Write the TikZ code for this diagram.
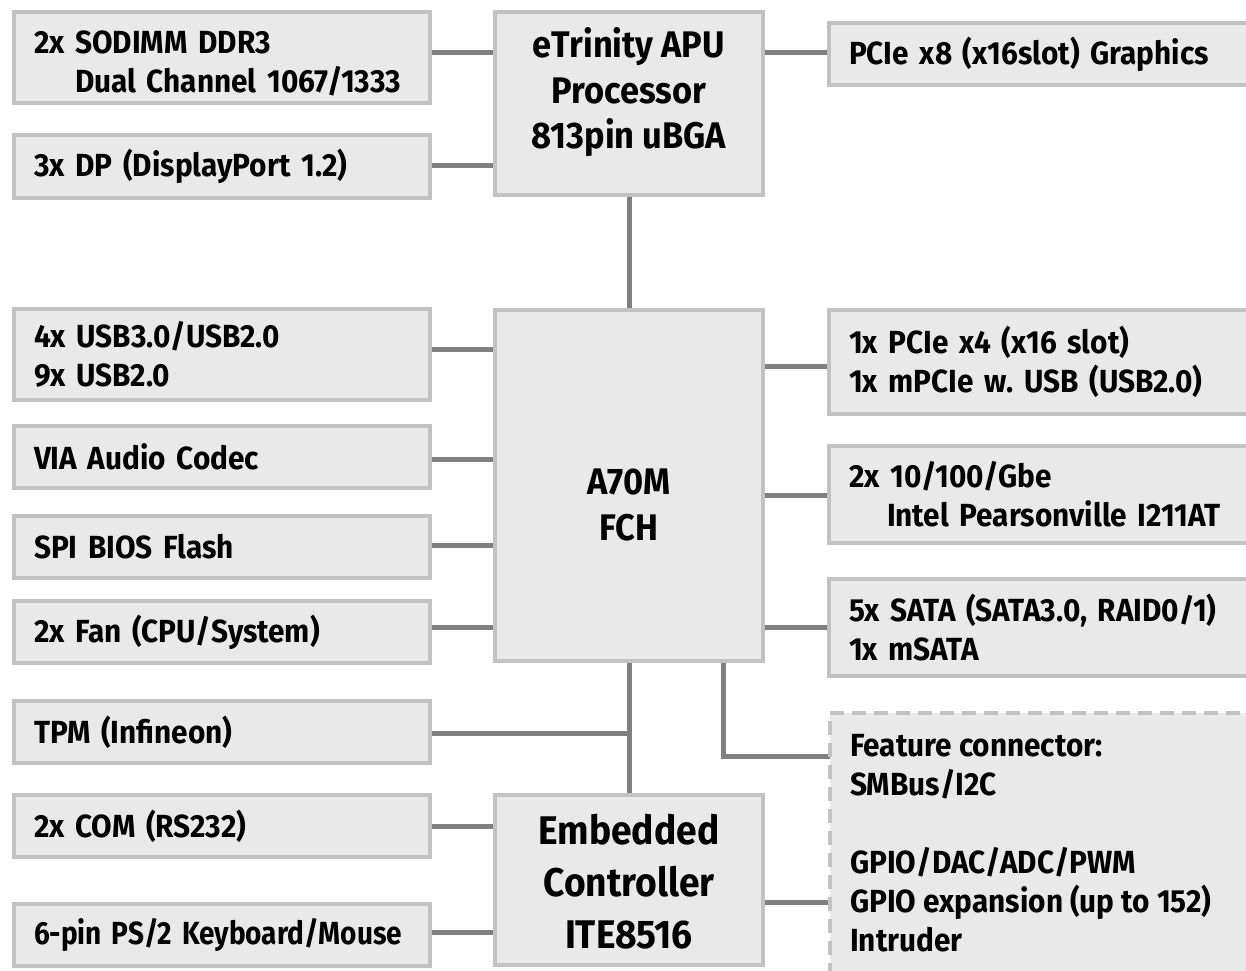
\documentclass[tikz,border=0pt]{standalone}
\usepackage{fontspec}
\usepackage{graphicx}
\setmainfont{Fira Sans}[FakeStretch=0.93]
\usetikzlibrary{backgrounds}
\definecolor{boxfill}{HTML}{E8E9E8}
\definecolor{boxline}{HTML}{C2C2C2}
\definecolor{wirec}{HTML}{808080}
\newcommand\sidefont{\fontsize{32}{39}\selectfont\bfseries\frenchspacing}
\newcommand\apufont{\fontsize{37}{45.5}\selectfont\bfseries}
\newcommand\ecfont{\fontsize{40}{52}\selectfont\bfseries}
\begin{document}
\begin{tikzpicture}[x=1pt,y=-1pt,
  box/.style={draw=boxline, fill=boxfill, line width=4pt, anchor=north west, inner sep=0pt, outer sep=0pt},
  lbox/.style={box, minimum width=416pt, text width=376pt, inner xsep=20pt, align=left, font=\sidefont},
  rbox/.style={box, minimum width=440pt, text width=400pt, inner xsep=20pt, align=left, font=\sidefont},
  cbox/.style={box, minimum width=268pt},
  dashbox/.style={box, dash pattern=on 14pt off 8pt},
  wire/.style={draw=wirec, line width=5pt},
  ctext/.style={align=center, inner sep=0pt}]
\useasboundingbox (0,0) rectangle (1246,970);
\clip (0,0) rectangle (1246,970);
% left column
\node[lbox, minimum height=91pt] (sodimm) at (14,12) {\rule{0pt}{34pt}2x SODIMM DDR3\\\hspace*{41pt}Dual Channel 1067/1333};
\node[lbox, minimum height=63pt] (dp) at (14,135) {3x DP (DisplayPort 1.2)};
\node[lbox, minimum height=91pt] (usb) at (14,309) {4x USB3.0/USB2.0\\9x USB2.0};
\node[lbox, minimum height=62pt] (via) at (14,426) {VIA Audio Codec};
\node[lbox, minimum height=62pt] (spi) at (14,516) {SPI BIOS Flash};
\node[lbox, minimum height=62pt] (fan) at (14,601) {2x Fan (CPU/System)};
\node[lbox, minimum height=62pt] (tpm) at (14,701) {TPM (Infineon)};
\node[lbox, minimum height=62pt] (com) at (14,795) {2x COM (RS232)};
\node[lbox, minimum height=62pt] (ps2) at (14,904) {\scalebox{0.94}[1]{6-pin PS/2 Keyboard/Mouse}};
% centre column
\node[cbox, minimum height=183pt] (apu) at (495,12) {};
\node[ctext, font=\apufont] (apu-t) at ([yshift=11pt]apu.center) {eTrinity APU\\Processor\\813pin uBGA};
\node[cbox, minimum height=351pt] (a70m) at (495,310) {};
\node[ctext, font=\apufont] (a70m-t) at ([yshift=-19.5pt]a70m.center) {A70M\\FCH};
\node[cbox, minimum height=170pt] (ec) at (495,795) {};
\node[ctext, font=\ecfont] (ec-t) at ([yshift=-2pt]ec.center) {Embedded\\Controller\\ITE8516};
% right column
\node[rbox, minimum height=62pt] (pcie8) at (829,23) {PCIe x8 (x16slot) Graphics};
\node[rbox, minimum height=104pt] (pcie4) at (829,310) {1x PCIe x4 (x16 slot)\\1x mPCIe w. USB (USB2.0)};
\node[rbox, minimum height=97pt] (gbe) at (829,446) {2x 10/100/Gbe\\\hspace*{38pt}Intel Pearsonville I211AT};
\node[rbox, minimum height=97pt] (sata) at (829,579) {5x SATA (SATA3.0, RAID0/1)\\1x mSATA};
\node[dashbox, minimum width=440pt, minimum height=300pt] (feature) at (830,713) {};
\node[anchor=north west, align=left, inner sep=0pt, font=\sidefont] (feature-t) at (850,734)
  {Feature connector:\\SMBus/I2C\\[39pt]GPIO/DAC/ADC/PWM\\GPIO expansion (up to 152)\\Intruder};
% connectors
\begin{scope}[on background layer]
\draw[wire] (sodimm.east |- 0,52) -- (apu.west |- 0,52);
\draw[wire] (dp.east |- 0,165) -- (apu.west |- 0,165);
\draw[wire] (apu.east |- 0,52) -- (pcie8.west |- 0,52);
\draw[wire] (apu.south) -- (a70m.north);
\draw[wire] (usb.east |- 0,349) -- (a70m.west |- 0,349);
\draw[wire] (via.east |- 0,459) -- (a70m.west |- 0,459);
\draw[wire] (spi.east |- 0,545) -- (a70m.west |- 0,545);
\draw[wire] (fan.east |- 0,627) -- (a70m.west |- 0,627);
\draw[wire] (a70m.south) -- (ec.north);
\draw[wire] (tpm.east |- 0,733) -- (a70m.south |- 0,733);
\draw[wire] (com.east |- 0,826) -- (ec.west |- 0,826);
\draw[wire] (ps2.east |- 0,932) -- (ec.west |- 0,932);
\draw[wire] (a70m.east |- 0,366) -- (pcie4.west |- 0,366);
\draw[wire] (a70m.east |- 0,495) -- (gbe.west |- 0,495);
\draw[wire] (a70m.east |- 0,627) -- (sata.west |- 0,627);
\draw[wire] (a70m.south -| 723,0) |- (feature.west |- 0,756);
\draw[wire] (ec.east |- 0,902) -- (feature.west |- 0,902);
\end{scope}
\end{tikzpicture}
\end{document}
